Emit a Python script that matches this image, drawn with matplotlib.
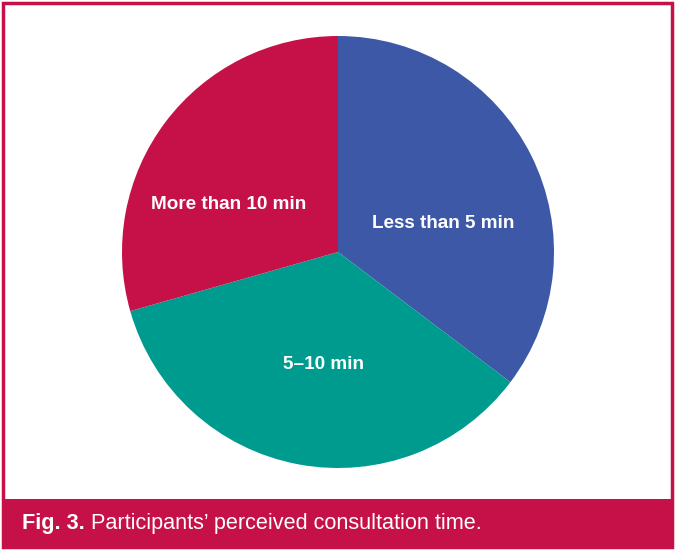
import matplotlib.pyplot as plt
from matplotlib.patches import Rectangle

# Dados (contagens estimadas a partir da figura)
categorias = ['Less than 5 min', '5–10 min', 'More than 10 min']
valores = [12, 12, 10]
cores = ['#3D58A7', '#009B8F', '#C51148']

crimson = '#C51148'

plt.rcParams['font.family'] = ['Liberation Sans', 'DejaVu Sans']
fig = plt.figure(figsize=(6.77, 5.5), dpi=100)

# Moldura e faixa da legenda
W, H = 677, 550
fig.patches.append(Rectangle((3 / W, 3 / H), 669 / W, 544 / H, transform=fig.transFigure,
                             facecolor='none', edgecolor=crimson, linewidth=2.5))
fig.patches.append(Rectangle((3 / W, 3 / H), 670 / W, 48 / H, transform=fig.transFigure,
                             facecolor=crimson, edgecolor='none'))
t1 = fig.text(22 / W, 1 - 523 / H, 'Fig. 3.', color='white', fontsize=15.6, fontweight='bold',
              va='center', ha='left')
fig.canvas.draw()
bb = t1.get_window_extent()
fig.text(bb.x1 / W + 6 / W, 1 - 523 / H, 'Participants\u2019 perceived consultation time.',
         color='white', fontsize=15.6, va='center', ha='left')

# Pizza
ax = fig.add_axes([122 / W, 1 - 468 / H, 432 / W, 432 / H])
wedges, textos = ax.pie(valores, colors=cores, startangle=90, counterclock=False,
                        labels=categorias, labeldistance=0.52,
                        wedgeprops=dict(linewidth=0),
                        textprops=dict(color='white', fontsize=13.6, fontweight='bold'))
# posicoes dos rotulos ajustadas
pos = [(0.486, 0.132), (-0.069, -0.521), (-0.505, 0.219)]
for t, p in zip(textos, pos):
    t.set_position(p)
    t.set_ha('center')
    t.set_va('center')
ax.set_xlim(-1, 1)
ax.set_ylim(-1, 1)
ax.set_aspect('auto')

fig.savefig('out.png', dpi=100)
